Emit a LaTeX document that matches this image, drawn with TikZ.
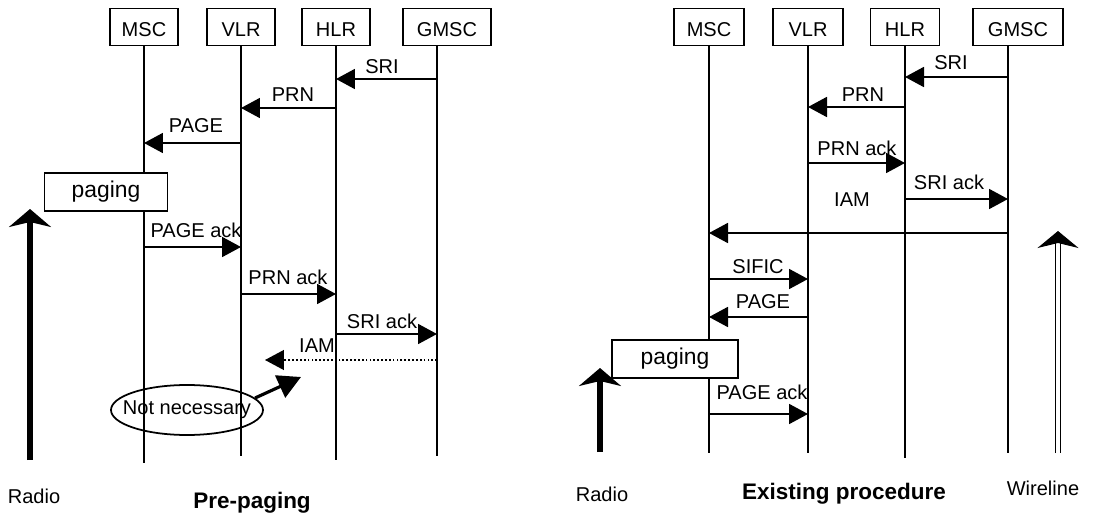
\documentclass[tikz,border=0pt]{standalone}
\usepackage{fontspec}
\setmainfont{Liberation Sans}
\usetikzlibrary{arrows.meta,shapes.geometric}
\newcommand\diagfont{\fontsize{11.4}{13}\selectfont}
\newcommand\titlefont{\fontsize{12.8}{15}\selectfont\bfseries}
\tikzset{
	actor/.style={draw,line width=1pt,minimum height=0.74cm,inner sep=0pt,text height=0.4cm,text depth=0pt,font=\diagfont},
	life/.style={line width=1.1pt},
	msg/.style={line width=1.1pt,-{Triangle[length=0.38cm,width=0.4cm]}},
	lbl/.style={anchor=base,inner sep=0pt,font=\diagfont},
	pagebox/.style={draw,fill=white,line width=1pt,minimum height=0.75cm,inner sep=0pt,font=\fontsize{13}{15}\selectfont},
	radio/.style={line width=3.4pt,-{Stealth[length=0.36cm,width=0.84cm,inset=0.1cm]}},
}
\begin{document}
\begin{tikzpicture}[x=0.02cm,y=-0.02cm]
		\useasboundingbox (0,0) rectangle (1100,517);
		\foreach \n/\t/\x/\o/\w/\b in {lmsc/MSC/144/0/68/463,lvlr/VLR/241/0/68/456,lhlr/HLR/336/0/68/460,lgmsc/GMSC/437/10/88/456,
			rmsc/MSC/709/0/70/453,rvlr/VLR/808/0/70/453,rhlr/HLR/905/0/69/458,rgmsc/GMSC/1008/10/90/453}{
			\node[actor,minimum width=\w*0.02cm] (\n) at (\x+\o,27) {\t};
			\coordinate (\n-e) at (\x,\b);
			\draw[life] (\n.south -| \n-e)--(\n-e);
		}
		\node[pagebox,minimum width=2.46cm] (lpaging) at (106,192) {paging};
		\node[pagebox,minimum width=2.52cm] (rpaging) at (675,359) {paging};
		\foreach \a/\b/\y in {lgmsc/lhlr/79,lhlr/lvlr/108,lvlr/lmsc/143,lmsc/lvlr/247,lvlr/lhlr/294,lhlr/lgmsc/334,
			rgmsc/rhlr/77,rhlr/rvlr/107,rvlr/rhlr/163,rhlr/rgmsc/199,rgmsc/rmsc/233,rmsc/rvlr/279,rvlr/rmsc/317,rmsc/rvlr/414}
		\draw[msg] (\a-e |- 0,\y)--(\b-e |- 0,\y);
		\coordinate (liam) at (265,360);
		\draw[msg,line width=0.7pt,dash pattern=on 1pt off 1.2pt] (lgmsc-e |- liam)--(liam);
		\foreach \t/\x/\y [count=\i] in {SRI/382/74,PRN/293/102,PAGE/196/133,PAGE ack/196/237,PRN ack/288/284,SRI ack/382/328,IAM/317/352,
			SRI/951/70,PRN/863/102,PRN ack/857/156,SRI ack/949/190,IAM/852/207,SIFIC/758/274,PAGE/763/308,PAGE ack/762/399}
		\node[lbl] (m\i) at (\x,\y) {\t};
		\node[ellipse,draw,line width=1pt,minimum width=3.04cm,minimum height=1cm,inner sep=0pt,font=\diagfont] (nn) at (187,410) {\makebox[0pt]{Not necessary}};
		\coordinate (nntip) at (301,377);
		\draw[line width=1.8pt,-{Triangle[length=0.46cm,width=0.48cm]}] (nn.10)--(nntip);
		\path (30,460) coordinate (lradB) (30,209) coordinate (lradT)
			(600,452) coordinate (rradB) (600,368) coordinate (rradT)
			(1058,453) coordinate (wireB) (1058,231) coordinate (wireT);
		\draw[radio] (lradB)--(lradT);
		\draw[radio] (rradB)--(rradT);
		\draw[double,line width=0.6pt,double distance=1.8pt,-{Stealth[length=0.34cm,width=0.82cm,inset=0.1cm]}] (wireB)--(wireT);
		\node[lbl] (lradio) at (34,503) {Radio};
		\node[lbl] (rradio) at (602,501) {Radio};
		\node[lbl] (wire) at (1043,495) {Wireline};
		\node[lbl,font=\titlefont] (prepag) at (252,508) {Pre-paging};
		\node[lbl,font=\titlefont] (exist) at (844,499) {Existing procedure};
\end{tikzpicture}
\end{document}
